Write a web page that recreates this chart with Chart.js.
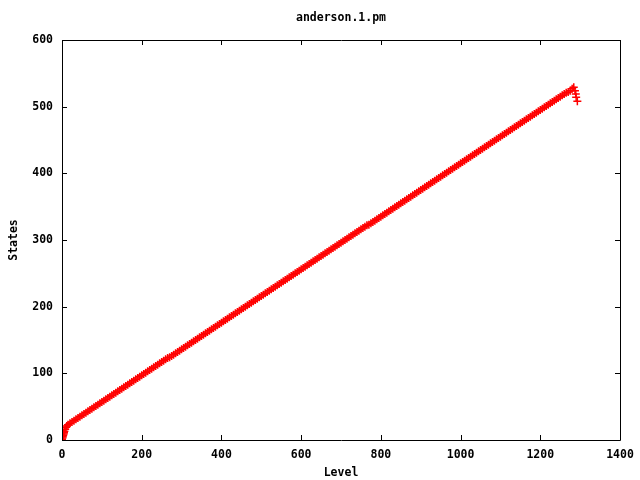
<!DOCTYPE html>
<html>
<head>
<meta charset="utf-8">
<script src="https://cdn.jsdelivr.net/npm/chart.js@4"></script>
<style>
html,body{margin:0;padding:0;background:#fff;}
#wrap{width:640px;height:480px;}
</style>
</head>
<body>
<div id="wrap"><canvas id="c" width="640" height="480"></canvas></div>
<script>
const chartTitle = "anderson.1.pm";
const xTitle = "Level";
const yTitle = "States";
const levels = [
0,1,2,3,4,5,6,8,10,12,15,
20,25,30,35,40,45,50,55,60,65,
70,75,80,85,90,95,100,105,110,115,
120,125,130,135,140,145,150,155,160,165,
170,175,180,185,190,195,200,205,210,215,
220,225,230,235,240,245,250,255,260,265,
270,275,280,285,290,295,300,305,310,315,
320,325,330,335,340,345,350,355,360,365,
370,375,380,385,390,395,400,405,410,415,
420,425,430,435,440,445,450,455,460,465,
470,475,480,485,490,495,500,505,510,515,
520,525,530,535,540,545,550,555,560,565,
570,575,580,585,590,595,600,605,610,615,
620,625,630,635,640,645,650,655,660,665,
670,675,680,685,690,695,700,705,710,715,
720,725,730,735,740,745,750,755,760,765,
770,775,780,785,790,795,800,805,810,815,
820,825,830,835,840,845,850,855,860,865,
870,875,880,885,890,895,900,905,910,915,
920,925,930,935,940,945,950,955,960,965,
970,975,980,985,990,995,1000,1005,1010,1015,
1020,1025,1030,1035,1040,1045,1050,1055,1060,1065,
1070,1075,1080,1085,1090,1095,1100,1105,1110,1115,
1120,1125,1130,1135,1140,1145,1150,1155,1160,1165,
1170,1175,1180,1185,1190,1195,1200,1205,1210,1215,
1220,1225,1230,1235,1240,1245,1250,1255,1260,1265,
1270,1275,1280,1284,1287,1289,1290,1293];
const states = [
1,3,5,7,9,11,13,16,19,21,23,
25,27,29,31,33,35,37,39,41,43,
45,47,49,51,53,55,57,59,61,63,
65,67,69,71,73,75,77,79,81,83,
85,87,89,91,93,95,97,99,101,103,
105,107,109,111,113,115,117,119,121,123,
124,126,128,130,132,134,136,138,140,142,
144,146,148,150,152,154,156,158,160,162,
164,166,168,170,172,174,176,178,180,182,
184,186,188,190,192,194,196,198,200,202,
204,206,208,210,212,214,216,218,220,222,
224,226,228,230,232,234,236,238,240,242,
244,246,248,250,252,254,256,258,260,262,
264,266,268,270,272,274,276,278,280,282,
284,286,288,290,292,294,296,298,300,302,
304,306,308,310,312,314,316,318,320,322,
323,325,327,329,331,333,335,337,339,341,
343,345,347,349,351,353,355,357,359,361,
363,365,367,369,371,373,375,377,379,381,
383,385,387,389,391,393,395,397,399,401,
403,405,407,409,411,413,415,417,419,421,
423,425,427,429,431,433,435,437,439,441,
443,445,447,449,451,453,455,457,459,461,
463,465,467,469,471,473,475,477,479,481,
483,485,487,489,491,493,495,497,499,501,
503,505,507,509,511,513,515,517,519,521,
522,524,527,529,524,519,514,508];
const xTicks = [0,200,400,600,800,1000,1200,1400];
const yTicks = [0,100,200,300,400,500,600];

const pts = levels.map((l,i)=>({x:l,y:states[i]}));
const FONT = {family:"'DejaVu Sans Mono', monospace", size:11.5, weight:'bold'};

const frame = {
  id:'frame',
  afterDatasetsDraw(chart){
    const {ctx, chartArea:a, scales:{x,y}} = chart;
    ctx.save();
    ctx.strokeStyle='#000';
    ctx.lineWidth=1;
    ctx.beginPath();
    ctx.rect(Math.round(a.left)+0.5, Math.round(a.top)+0.5, Math.round(a.right-a.left), Math.round(a.bottom-a.top));
    const L=5;
    xTicks.forEach(v=>{
      const px=Math.round(x.getPixelForValue(v))+0.5;
      ctx.moveTo(px,a.bottom); ctx.lineTo(px,a.bottom-L);
      ctx.moveTo(px,a.top); ctx.lineTo(px,a.top+L);
    });
    yTicks.forEach(v=>{
      const py=Math.round(y.getPixelForValue(v))+0.5;
      ctx.moveTo(a.left,py); ctx.lineTo(a.left+L,py);
      ctx.moveTo(a.right,py); ctx.lineTo(a.right-L,py);
    });
    ctx.stroke();
    // chart title centred over the plot area
    ctx.fillStyle='#000';
    ctx.font = "bold 11.5px 'DejaVu Sans Mono', monospace";
    ctx.textAlign='center';
    ctx.textBaseline='middle';
    ctx.fillText(chartTitle,(a.left+a.right)/2,18);
    ctx.restore();
  }
};

new Chart(document.getElementById('c'), {
  type:'scatter',
  data:{datasets:[{
    data:pts,
    showLine:false,
    pointStyle:'cross',
    pointRadius:4,
    pointBorderWidth:1.5,
    borderColor:'#ff0000',
    backgroundColor:'#ff0000'
  }]},
  options:{
    responsive:false,
    animation:false,
    layout:{padding:{left:0,right:0,top:40,bottom:0}},
    plugins:{
      legend:{display:false},
      tooltip:{enabled:false},
      title:{display:false}
    },
    scales:{
      x:{
        type:'linear',min:0,max:1400,
        afterBuildTicks(s){s.ticks=xTicks.map(v=>({value:v}));},
        afterFit(s){s.height=40; s.paddingRight=20;},
        grid:{display:false,drawTicks:false},
        border:{display:false},
        ticks:{color:'#000',font:FONT,padding:8,maxRotation:0,autoSkip:false,callback:v=>String(v)},
        title:{display:true,text:xTitle,color:'#000',font:FONT,padding:{top:0,bottom:0}}
      },
      y:{
        type:'linear',min:0,max:600,
        afterBuildTicks(s){s.ticks=yTicks.map(v=>({value:v}));},
        afterFit(s){s.width=62;},
        grid:{display:false,drawTicks:false},
        border:{display:false},
        ticks:{color:'#000',font:FONT,padding:9,autoSkip:false,callback:v=>String(v)},
        title:{display:true,text:yTitle,color:'#000',font:FONT,padding:{top:7,bottom:0}}
      }
    }
  },
  plugins:[frame]
});
</script>
</body>
</html>
